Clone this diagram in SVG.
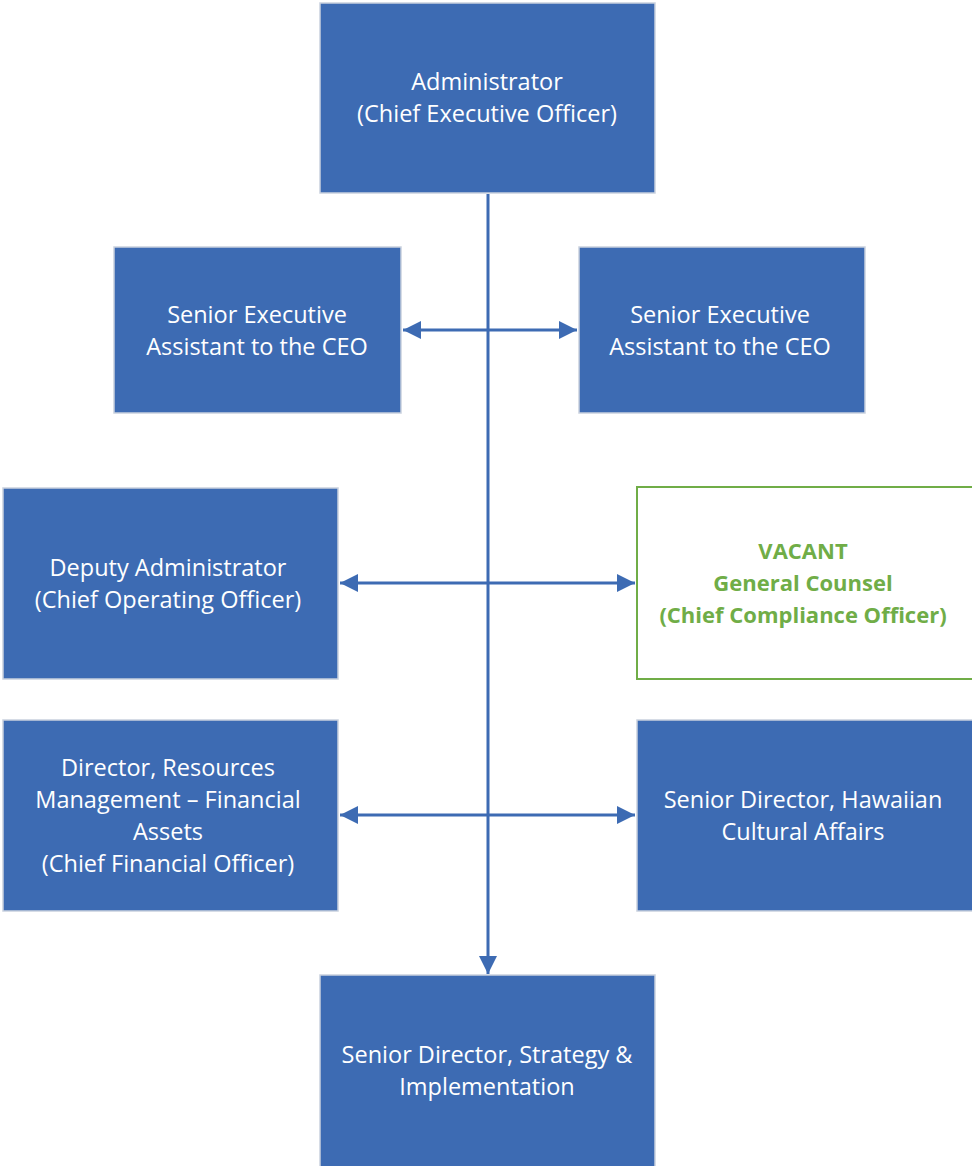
<svg xmlns="http://www.w3.org/2000/svg" width="972" height="1166" viewBox="0 0 972 1166">
<defs>
<style>
.box{fill:#3D6BB3;stroke:#C9D1DE;stroke-width:1.5}
.vac{fill:#fff;stroke:#70AD47;stroke-width:2}
.t{font-family:"Open Sans","Lato",sans-serif;font-size:23.5px;fill:#fff;text-anchor:middle}
.g{font-family:"Open Sans","Lato",sans-serif;font-size:22px;fill:#70AD47;font-weight:bold;text-anchor:middle}
.c{stroke:#3D6BB3;stroke-width:3;fill:none}
</style>
<marker id="ah" viewBox="0 0 10 10" refX="10" refY="5" markerWidth="6" markerHeight="6" markerUnits="strokeWidth" orient="auto-start-reverse">
<path d="M0,0 L10,5 L0,10 z" fill="#3D6BB3"/>
</marker>
</defs>
<g id="connectors">
<line class="c" x1="488" y1="194" x2="488" y2="974" marker-end="url(#ah)"/>
<line class="c" x1="403" y1="330" x2="577" y2="330" marker-start="url(#ah)" marker-end="url(#ah)"/>
<line class="c" x1="340" y1="583" x2="635" y2="583" marker-start="url(#ah)" marker-end="url(#ah)"/>
<line class="c" x1="340" y1="815" x2="635" y2="815" marker-start="url(#ah)" marker-end="url(#ah)"/>
</g>
<g id="admin">
<rect class="box" x="320" y="3" width="335" height="190"/>
<text class="t" x="487" y="90">Administrator</text>
<text class="t" x="487" y="122">(Chief Executive Officer)</text>
</g>
<g id="sea-left">
<rect class="box" x="114" y="247" width="287" height="166"/>
<text class="t" x="257" y="323">Senior Executive</text>
<text class="t" x="257" y="355">Assistant to the CEO</text>
</g>
<g id="sea-right">
<rect class="box" x="579" y="247" width="286" height="166"/>
<text class="t" x="720" y="323">Senior Executive</text>
<text class="t" x="720" y="355">Assistant to the CEO</text>
</g>
<g id="deputy">
<rect class="box" x="3" y="488" width="335" height="191"/>
<text class="t" x="168" y="576">Deputy Administrator</text>
<text class="t" x="168" y="608">(Chief Operating Officer)</text>
</g>
<g id="vacant">
<rect class="vac" x="637" y="487" width="340" height="192"/>
<text class="g" x="803" y="559">VACANT</text>
<text class="g" x="803" y="591">General Counsel</text>
<text class="g" x="803" y="623">(Chief Compliance Officer)</text>
</g>
<g id="director-rm">
<rect class="box" x="3" y="720" width="335" height="191"/>
<text class="t" x="168" y="776">Director, Resources</text>
<text class="t" x="168" y="808">Management – Financial</text>
<text class="t" x="168" y="840">Assets</text>
<text class="t" x="168" y="872">(Chief Financial Officer)</text>
</g>
<g id="hawaiian">
<rect class="box" x="637" y="720" width="340" height="191"/>
<text class="t" x="803" y="808">Senior Director, Hawaiian</text>
<text class="t" x="803" y="840">Cultural Affairs</text>
</g>
<g id="strategy">
<rect class="box" x="320" y="975" width="335" height="195"/>
<text class="t" x="487" y="1063">Senior Director, Strategy &amp;</text>
<text class="t" x="487" y="1095">Implementation</text>
</g>
</svg>
